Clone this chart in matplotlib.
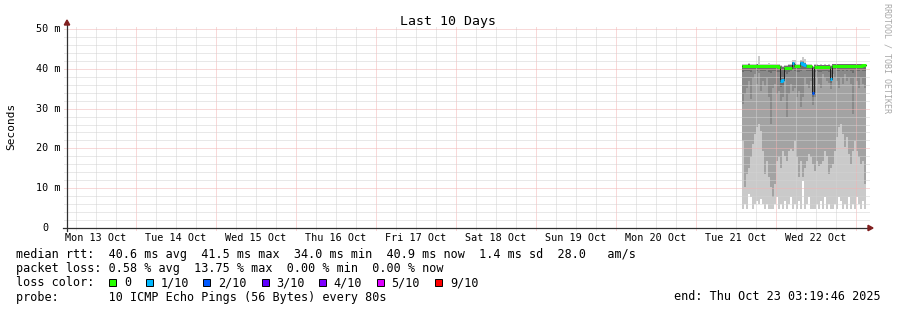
import numpy as np
import pandas as pd
import matplotlib
matplotlib.use('Agg')
import matplotlib.pyplot as plt
import matplotlib.dates as mdates
from matplotlib.patches import Rectangle, Polygon

plt.rcParams['font.family'] = ['DejaVu Sans Mono']

# ventana del grafico: ultimos 10 dias
t_end = pd.Timestamp('2025-10-23 03:19:46')
t_begin = t_end - pd.Timedelta(days=10)

# muestras consolidadas (cada columna = 36 min)
sample_start = pd.Timestamp('2025-10-21 13:50')
sample_step = '36min'

# rtt en ms, pings ordenados (humo)
rtt_p1 = [4.8, 6.1, 4.8, 8.6, 7.8, 4.8, 6.1, 6.9, 6.1, 7.3,
          6.1, 4.8, 6.1, 4.8, 4.8, 4.8, 6.1, 7.8, 4.8, 6.1,
          4.8, 6.9, 4.8, 6.1, 7.8, 4.8, 6.1, 4.8, 6.9, 4.8,
          11.9, 4.8, 6.1, 7.8, 4.8, 4.8, 4.8, 6.1, 4.8, 6.9,
          4.8, 7.8, 4.8, 6.1, 4.8, 4.8, 6.1, 4.8, 7.8, 6.9,
          4.8, 6.1, 4.8, 7.8, 4.8, 6.1, 4.8, 7.8, 6.1, 4.8,
          6.9, 4.8]
rtt_p2 = [21.9, 10.3, 13.6, 15.2, 17.8, 21.1, 23.6, 25.3, 26.1, 24.4,
          19.4, 13.6, 16.9, 12.7, 10.3, 7.8, 11.1, 16.9, 17.8, 15.2,
          19.4, 18.2, 16.9, 19.4, 19.8, 19.4, 21.9, 17.8, 12.7, 16.9,
          12.7, 15.2, 16.9, 18.6, 17.8, 16.1, 14.4, 16.9, 15.7, 16.1,
          16.9, 19.4, 18.2, 13.6, 15.2, 16.1, 19.4, 22.8, 25.3, 26.1,
          23.6, 20.3, 22.8, 18.6, 16.1, 19.4, 21.9, 19.4, 17.8, 16.1,
          16.9, 11.1]
rtt_p3 = [31.1, 33.6, 35.3, 37.0, 32.3, 37.8, 38.6, 36.1, 39.0, 34.4,
          36.9, 35.7, 37.8, 32.8, 26.1, 35.3, 36.1, 33.6, 34.4, 31.9,
          33.0, 37.8, 27.8, 33.6, 36.1, 34.4, 35.3, 32.8, 34.4, 30.3,
          32.8, 37.8, 36.1, 35.3, 36.9, 31.0, 32.8, 37.8, 36.1, 35.3,
          38.6, 37.8, 36.9, 36.5, 35.0, 38.6, 37.8, 36.9, 35.3, 37.8,
          36.1, 38.6, 36.9, 37.8, 36.1, 28.6, 37.8, 36.9, 35.3, 37.8,
          36.1, 35.3]
rtt_p4 = [39.3, 39.4, 39.5, 39.5, 39.3, 39.6, 39.7, 39.5, 39.7, 39.4,
          39.5, 39.4, 39.6, 39.3, 39.0, 39.4, 39.5, 39.3, 39.2, 35.5,
          35.8, 39.3, 38.8, 39.2, 39.4, 39.6, 39.4, 39.2, 39.3, 39.5,
          39.6, 39.6, 39.5, 39.4, 39.5, 33.0, 39.2, 39.4, 39.3, 39.3,
          39.5, 39.4, 39.4, 39.3, 36.5, 39.6, 39.6, 39.5, 39.4, 39.6,
          39.5, 39.7, 39.5, 39.6, 39.5, 39.0, 39.6, 39.5, 39.4, 39.6,
          39.5, 39.4]
rtt_p8 = [41.0, 41.0, 41.0, 41.1, 41.0, 41.0, 41.0, 41.1, 41.0, 41.0,
          41.0, 41.0, 41.0, 41.0, 41.0, 41.0, 41.0, 41.0, 41.0, 40.6,
          40.5, 40.8, 40.8, 40.9, 40.9, 41.8, 41.1, 41.0, 41.0, 41.9,
          41.9, 41.5, 41.0, 41.0, 41.0, 40.4, 40.9, 40.9, 40.9, 40.9,
          40.9, 40.9, 40.9, 40.9, 40.6, 41.1, 41.1, 41.1, 41.1, 41.1,
          41.1, 41.1, 41.1, 41.1, 41.1, 41.1, 41.1, 41.1, 41.1, 41.1,
          41.1, 41.2]
rtt_max = [41.2, 41.3, 41.2, 41.4, 41.2, 41.3, 41.2, 41.3, 43.2, 41.3,
           41.2, 41.3, 41.2, 41.4, 41.2, 41.3, 41.2, 41.3, 41.2, 40.9,
           40.8, 41.0, 41.0, 41.1, 41.2, 42.3, 42.2, 41.3, 41.2, 42.3,
           43.0, 42.4, 41.3, 41.2, 41.2, 40.8, 41.1, 41.1, 41.0, 41.1,
           41.0, 41.1, 41.0, 41.1, 40.9, 41.3, 41.2, 41.3, 41.2, 41.3,
           41.2, 41.3, 41.2, 41.3, 41.2, 41.2, 41.3, 41.2, 41.3, 41.2,
           41.3, 41.2]
median = [40.6, 40.6, 40.7, 40.7, 40.6, 40.7, 40.7, 40.6, 40.7, 40.6,
          40.6, 40.6, 40.7, 40.6, 40.6, 40.6, 40.6, 40.6, 40.5, 37.0,
          37.2, 40.2, 40.2, 40.3, 40.3, 41.4, 40.7, 40.6, 40.6, 41.5,
          41.3, 41.0, 40.7, 40.6, 40.6, 34.0, 40.4, 40.4, 40.4, 40.4,
          40.4, 40.4, 40.4, 40.4, 37.5, 40.8, 40.8, 40.8, 40.8, 40.8,
          40.8, 40.8, 40.8, 40.8, 40.8, 40.7, 40.8, 40.8, 40.8, 40.8,
          40.9, 40.9]
# pings perdidos de 10
loss = [0, 0, 0, 0, 0, 0, 0, 0, 0, 0,
        0, 0, 0, 0, 0, 0, 0, 0, 0, 1,
        1, 0, 0, 0, 0, 1, 0, 0, 0, 1,
        1, 1, 0, 0, 0, 2, 0, 0, 0, 0,
        0, 0, 0, 0, 1, 0, 0, 0, 0, 0,
        0, 0, 0, 0, 0, 0, 0, 0, 0, 0,
        0, 0]

loss_levels = [0, 1, 2, 3, 4, 5, 9]
loss_labels = ['0', '1/10', '2/10', '3/10', '4/10', '5/10', '9/10']
loss_colors = ['#26ff00', '#00b8ff', '#0059ff', '#5e00ff', '#7e00ff', '#dd00ff', '#ff0000']

ytick_vals = [0, 10, 20, 30, 40, 50]
ytick_labels = ['0', '10 m', '20 m', '30 m', '40 m', '50 m']

legend_lines = [
    'median rtt:  40.6 ms avg  41.5 ms max  34.0 ms min  40.9 ms now  1.4 ms sd  28.0   am/s',
    'packet loss: 0.58 % avg  13.75 % max  0.00 % min  0.00 % now',
    'loss color:',
    'probe:       10 ICMP Echo Pings (56 Bytes) every 80s',
]
end_text = 'end: Thu Oct 23 03:19:46 2025'

W, H = 897, 310
fig = plt.figure(figsize=(W / 100, H / 100), dpi=100)
fig.patch.set_facecolor('white')
ax = fig.add_axes([67 / W, (H - 228) / H, 800 / W, 199 / H])
ax.set_facecolor('white')
for s in ax.spines.values():
    s.set_visible(False)
ax.set_xticks([])
ax.set_yticks([])

x0 = mdates.date2num(t_begin.to_pydatetime())
x1 = mdates.date2num(t_end.to_pydatetime())
ax.set_xlim(x0, x1)
ax.set_ylim(0, 50)

times = pd.date_range(sample_start, periods=len(median) + 1, freq=sample_step)
tx = mdates.date2num(times.to_pydatetime())


def ext(a):
    a = np.asarray(a, dtype=float)
    return np.append(a, a[-1])


# humo
layers = [(rtt_p1, rtt_max, '#cacaca'),
          (rtt_p2, rtt_p8, '#a3a3a3'),
          (rtt_p3, rtt_p8, '#8a8a8a'),
          (rtt_p4, rtt_p8, '#6e6e6e')]
for lo, hi, col in layers:
    ax.fill_between(tx, ext(lo), ext(hi), step='post', color=col, lw=0, zorder=1)

# rejilla punteada
minor_col = '#d2d2d2'
major_col = '#f3b4b4'
dot = (0, (1, 1))
for t in pd.date_range('2025-10-13 06:00', '2025-10-23 00:00', freq='6h'):
    col = major_col if t.hour == 0 else minor_col
    ax.axvline(mdates.date2num(t.to_pydatetime()), ymin=-2 / 199, ymax=1 + 2 / 199,
               color=col, lw=0.72, ls=dot, zorder=3, clip_on=False)
for v in range(2, 51, 2):
    col = major_col if v % 10 == 0 else minor_col
    ax.axhline(v, xmin=-3 / 800, xmax=1 + 2 / 800, color=col, lw=0.72, ls=dot,
               zorder=3, clip_on=False)

# mediana
med = ext(median)
ax.plot(tx, med, drawstyle='steps-post', color='#202020', lw=0.72, zorder=4)
lx = ext(loss)
for lvl, col in zip(loss_levels, loss_colors):
    m = np.where(lx == lvl, med, np.nan)
    ax.plot(tx, m, drawstyle='steps-post', color=col, lw=2.16,
            solid_capstyle='butt', zorder=5)

# ejes con flechas
axis_col = '#303030'
arrow_col = '#801f1f'
ax.plot([0, 0], [-3 / 199, (228 - 25) / 199], transform=ax.transAxes,
        color=axis_col, lw=0.9, clip_on=False, zorder=6)
ax.plot([-4 / 800, 1 + 2 / 800], [0, 0], transform=ax.transAxes,
        color=axis_col, lw=0.9, clip_on=False, zorder=6)
ax.add_patch(Polygon([(-2.7 / 800, 203 / 199), (2.7 / 800, 203 / 199), (0, 208 / 199)],
                     closed=True, transform=ax.transAxes, color=arrow_col,
                     clip_on=False, zorder=7))
ax.add_patch(Polygon([(801 / 800, 2.7 / 199), (801 / 800, -2.7 / 199), (806 / 800, 0)],
                     closed=True, transform=ax.transAxes, color=arrow_col,
                     clip_on=False, zorder=7))

# etiquetas eje y
for v, lab in zip(ytick_vals, ytick_labels):
    xr = -6 / 800 if lab != '0' else -18.5 / 800
    ax.text(xr, v, lab, transform=ax.get_yaxis_transform(), ha='right', va='center',
            fontsize=7.3, color='black')

# etiquetas de dias (al mediodia)
for d in pd.date_range('2025-10-13 12:00', '2025-10-22 12:00', freq='D'):
    ax.text(mdates.date2num(d.to_pydatetime()), -5 / 199, d.strftime('%a %d %b'),
            transform=ax.get_xaxis_transform(), ha='center', va='top',
            fontsize=7.3, color='black')

fig.text(11 / W, 1 - 126.5 / H, 'Seconds', rotation=90, ha='center', va='center',
         fontsize=8)
fig.text(447.5 / W, 1 - 25 / H, 'Last 10 Days', ha='center', va='baseline',
         fontsize=9.5)
fig.text(887 / W, 1 - 58 / H, 'RRDTOOL / TOBI OETIKER', rotation=270,
         ha='center', va='center', fontsize=6, color='#a8a8a8')

# leyenda
baselines = [258, 272, 286, 300.5]
for yb, line in zip(baselines, legend_lines):
    fig.text(16 / W, 1 - yb / H, line, ha='left', va='baseline', fontsize=8.5)
fig.text(881 / W, 1 - 300.5 / H, end_text, ha='right', va='baseline', fontsize=8.5)

box_x = [109, 146, 203, 262, 319, 377, 435]
lab_x = [124, 161, 218, 276, 333, 391, 450]
for bx, tx_, lab, col in zip(box_x, lab_x, loss_labels, loss_colors):
    fig.patches.append(Rectangle((bx / W, 1 - 286 / H), 7 / W, 7 / H,
                                 transform=fig.transFigure, facecolor=col,
                                 edgecolor='black', lw=0.7))
    fig.text(tx_ / W, 1 - 286 / H, lab, ha='left', va='baseline', fontsize=8.5)

fig.savefig('out.png', dpi=100, facecolor='white')
